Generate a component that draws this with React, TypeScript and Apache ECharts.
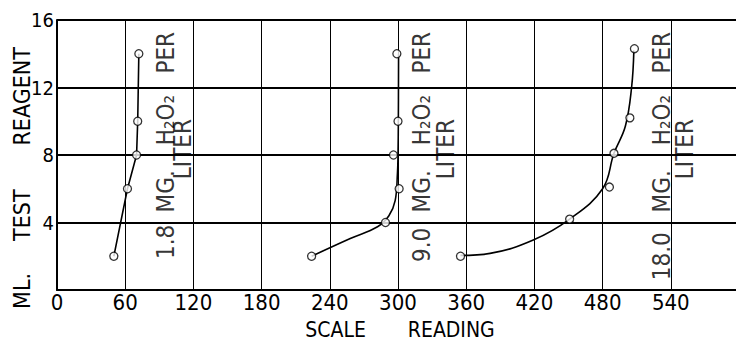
import React, { useEffect, useRef } from "react";
import * as echarts from "echarts";

const FONT = "'DejaVu Sans Condensed', 'DejaVu Sans', sans-serif";

// Axis ranges / ticks
const xMin = 0;
const xMax = 600;
const xStep = 60;
const yMin = 0;
const yMax = 16;
const yStep = 4;

// Concentrations (mg H2O2 per liter)
const concentrations = ["1.8", "9.0", "18.0"];

// Measured points: scale reading vs ml test reagent
const scale1 = [50, 62, 70, 71, 72];
const ml1 = [2, 6, 8, 10, 14];
const scale2 = [224, 289, 301, 296, 300, 299];
const ml2 = [2, 4, 6, 8, 10, 14];
const scale3 = [355, 451, 486, 490, 504, 508];
const ml3 = [2, 4.2, 6.1, 8.1, 10.2, 14.3];

// Drawn (fitted) curves
const curve1Scale = [50, 62, 70, 71, 72];
const curve1Ml = [2, 6, 8, 10, 14];
const curve2Scale = [224, 258, 282, 292, 297.5, 299.5, 300, 300.3, 300.5];
const curve2Ml = [2, 3.05, 3.75, 4.4, 5.3, 6.9, 8, 10, 14];
const curve3Scale = [355, 381, 419, 451, 480, 490, 500, 505.5, 507.5];
const curve3Ml = [2.05, 2.17, 2.96, 4.2, 6, 8.1, 9.7, 12, 14.2];

// Annotation texts (rotated) and their anchor values in data units
const labelWords = ["MG.", "H₂O₂", "PER", "LITER"];
const labelWordMl = [5.85, 10.07, 14.06, 8.35];
const concMl = [2.85, 2.67, 2.0];
const groupTextScale = [96, 321, 532];
const groupLiterScale = [110.5, 342, 552.5];

const pairs = (xs: number[], ys: number[]) => xs.map((x, i) => [x, ys[i]]);

export default function App() {
  const ref = useRef<HTMLDivElement>(null);

  useEffect(() => {
    if (!ref.current) return;
    const chart = echarts.init(ref.current, undefined, { renderer: "svg" });

    const annotData: any[] = [];
    concentrations.forEach((c, g) => {
      annotData.push({ value: [groupTextScale[g], concMl[g]], label: { formatter: c } });
      labelWords.forEach((w, i) => {
        const x = w === "LITER" ? groupLiterScale[g] : groupTextScale[g];
        annotData.push({ value: [x, labelWordMl[i]], label: { formatter: w } });
      });
    });

    const curveStyle = { color: "#000", width: 1.6 };
    const pointStyle = { color: "#fff", borderColor: "#000", borderWidth: 1.3 };

    chart.setOption({
      animation: false,
      backgroundColor: "#fff",
      grid: {
        left: 57,
        top: 20,
        width: 682,
        height: 270,
        containLabel: false,
        outerBoundsMode: "none",
      },
      xAxis: {
        type: "value",
        min: xMin,
        max: xMax,
        interval: xStep,
        axisLine: { show: true, lineStyle: { color: "#000", width: 2 } },
        axisTick: { show: false },
        splitLine: { show: true, lineStyle: { color: "#000", width: 1 } },
        axisLabel: {
          color: "#000",
          fontFamily: FONT,
          fontSize: 22,
          lineHeight: 20,
          margin: 2,
          formatter: (v: number) => (v >= xMax ? "" : String(v)),
        },
        name: "{a|SCALE}{b|READING}",
        nameLocation: "middle",
        nameGap: 29,
        nameMoveOverlap: false,
        nameTextStyle: {
          color: "#000",
          fontFamily: FONT,
          fontSize: 21,
          lineHeight: 22,
          rich: {
            a: { color: "#000", fontFamily: FONT, fontSize: 21, lineHeight: 22, padding: [0, 0, 0, 4] },
            b: { color: "#000", fontFamily: FONT, fontSize: 21, lineHeight: 22, padding: [0, 0, 0, 42] },
          },
        },
      },
      yAxis: {
        type: "value",
        min: yMin,
        max: yMax,
        interval: yStep,
        axisLine: { show: true, lineStyle: { color: "#000", width: 2 } },
        axisTick: { show: false },
        splitLine: { show: true, lineStyle: { color: "#000", width: 1.8 } },
        axisLabel: {
          color: "#000",
          fontFamily: FONT,
          fontSize: 20,
          margin: 3,
          padding: [4, 0, 0, 0],
          formatter: (v: number) => (v === 0 ? "" : String(v)),
        },
        name: "{a|ML.}{b|TEST}{c|REAGENT}",
        nameLocation: "middle",
        nameGap: 26,
        nameMoveOverlap: false,
        nameTextStyle: {
          color: "#000",
          fontFamily: FONT,
          fontSize: 23,
          lineHeight: 18,
          rich: {
            a: { color: "#000", fontFamily: FONT, fontSize: 23, lineHeight: 18 },
            b: { color: "#000", fontFamily: FONT, fontSize: 23, lineHeight: 18, padding: [0, 0, 0, 32] },
            c: { color: "#000", fontFamily: FONT, fontSize: 23, lineHeight: 18, padding: [0, 46, 0, 44] },
          },
        },
      },
      series: [
        { type: "line", data: pairs(curve1Scale, curve1Ml), showSymbol: false, smooth: false, lineStyle: curveStyle, silent: true },
        { type: "line", data: pairs(curve2Scale, curve2Ml), showSymbol: false, smooth: 0.4, lineStyle: curveStyle, silent: true },
        { type: "line", data: pairs(curve3Scale, curve3Ml), showSymbol: false, smooth: 0.4, lineStyle: curveStyle, silent: true },
        { type: "scatter", data: pairs(scale1, ml1), symbol: "circle", symbolSize: 8, itemStyle: pointStyle, z: 5 },
        { type: "scatter", data: pairs(scale2, ml2), symbol: "circle", symbolSize: 8, itemStyle: pointStyle, z: 5 },
        { type: "scatter", data: pairs(scale3, ml3), symbol: "circle", symbolSize: 8, itemStyle: pointStyle, z: 5 },
        {
          type: "scatter",
          data: annotData,
          symbolSize: 0,
          silent: true,
          z: 6,
          label: {
            show: true,
            position: "inside",
            rotate: 90,
            align: "center",
            verticalAlign: "middle",
            color: "#000",
            fontFamily: FONT,
            fontSize: 24,
          },
        },
      ],
    });

    return () => chart.dispose();
  }, []);

  return (
    <div
      ref={ref}
      style={{ position: "fixed", left: 0, top: 0, width: 736, height: 343, background: "#fff" }}
    />
  );
}
